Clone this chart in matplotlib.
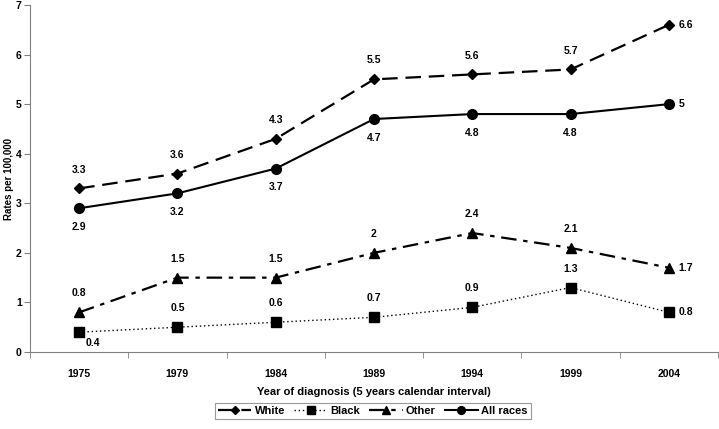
import matplotlib
matplotlib.use("Agg")
import matplotlib.pyplot as plt

plt.rcParams['font.family'] = ['Liberation Sans', 'DejaVu Sans']
plt.rcParams['font.weight'] = 'bold'
plt.rcParams['axes.labelweight'] = 'bold'

years = ["1975", "1979", "1984", "1989", "1994", "1999", "2004"]
white = [3.3, 3.6, 4.3, 5.5, 5.6, 5.7, 6.6]
black = [0.4, 0.5, 0.6, 0.7, 0.9, 1.3, 0.8]
other = [0.8, 1.5, 1.5, 2.0, 2.4, 2.1, 1.7]
all_races = [2.9, 3.2, 3.7, 4.7, 4.8, 4.8, 5.0]


def fmt(v):
    return "%g" % v


def main():
    fig = plt.figure(figsize=(7.19, 4.29), dpi=100)
    ax = fig.add_axes([30 / 719, 77 / 429, 688 / 719, 347 / 429])
    x = list(range(len(years)))

    ax.plot(x, white, color='black', lw=1.6, dashes=(7, 3.5), marker='D', ms=5, label='White')
    ax.plot(x, black, color='black', lw=1.0, ls=(0, (1, 2)), marker='s', ms=6.5, label='Black')
    ax.plot(x, other, color='black', lw=1.6, dashes=(7, 3, 2, 3), marker='^', ms=7, label='Other')
    ax.plot(x, all_races, color='black', lw=1.5, marker='o', ms=7, label='All races')

    fs = 7.5
    last = len(years) - 1
    for i in x:
        # labels above for White and Other, below for All races
        if i < last:
            ax.annotate(fmt(white[i]), (i, white[i]), xytext=(0, 10), textcoords='offset points',
                        ha='center', va='bottom', fontsize=fs)
            ax.annotate(fmt(all_races[i]), (i, all_races[i]), xytext=(0, -10), textcoords='offset points',
                        ha='center', va='top', fontsize=fs)
            ax.annotate(fmt(other[i]), (i, other[i]), xytext=(0, 10), textcoords='offset points',
                        ha='center', va='bottom', fontsize=fs)
            if i == 0:
                ax.annotate(fmt(black[i]), (i, black[i]), xytext=(10, -4), textcoords='offset points',
                            ha='center', va='top', fontsize=fs)
            else:
                ax.annotate(fmt(black[i]), (i, black[i]), xytext=(0, 10), textcoords='offset points',
                            ha='center', va='bottom', fontsize=fs)
        else:
            for s in (white, all_races, other, black):
                ax.annotate(fmt(s[i]), (i, s[i]), xytext=(7, 0), textcoords='offset points',
                            ha='left', va='center', fontsize=fs)

    ax.set_xlim(-0.5, last + 0.5)
    ax.set_ylim(0, 7)
    ax.set_xticks(x)
    ax.set_xticklabels(years)
    ax.set_xticks([i - 0.5 for i in range(len(years) + 1)], minor=True)
    ax.tick_params(axis='x', which='major', length=0, labelsize=fs, pad=12)
    ax.tick_params(axis='x', which='minor', length=4, color='#808080')
    ax.tick_params(axis='y', length=4, color='#808080', labelsize=fs, pad=2)

    for side in ('top', 'right'):
        ax.spines[side].set_visible(False)
    for side in ('left', 'bottom'):
        ax.spines[side].set_color('#808080')

    ax.set_xlabel("Year of diagnosis (5 years calendar interval)", fontsize=8, labelpad=6)
    ax.set_ylabel("Rates per 100,000", fontsize=7)
    ax.yaxis.set_label_coords(-16 / 688, 0.5)

    leg = fig.legend(loc='center', bbox_to_anchor=(373 / 719, 1 - 411 / 429), ncol=4,
                     fontsize=8, frameon=True, fancybox=False, handlelength=3.0,
                     handletextpad=0.3, columnspacing=0.8, borderpad=0.3, markerscale=0.8)
    leg.get_frame().set_edgecolor('#808080')
    leg.get_frame().set_linewidth(0.8)

    fig.savefig("out.png", dpi=100)


main()
